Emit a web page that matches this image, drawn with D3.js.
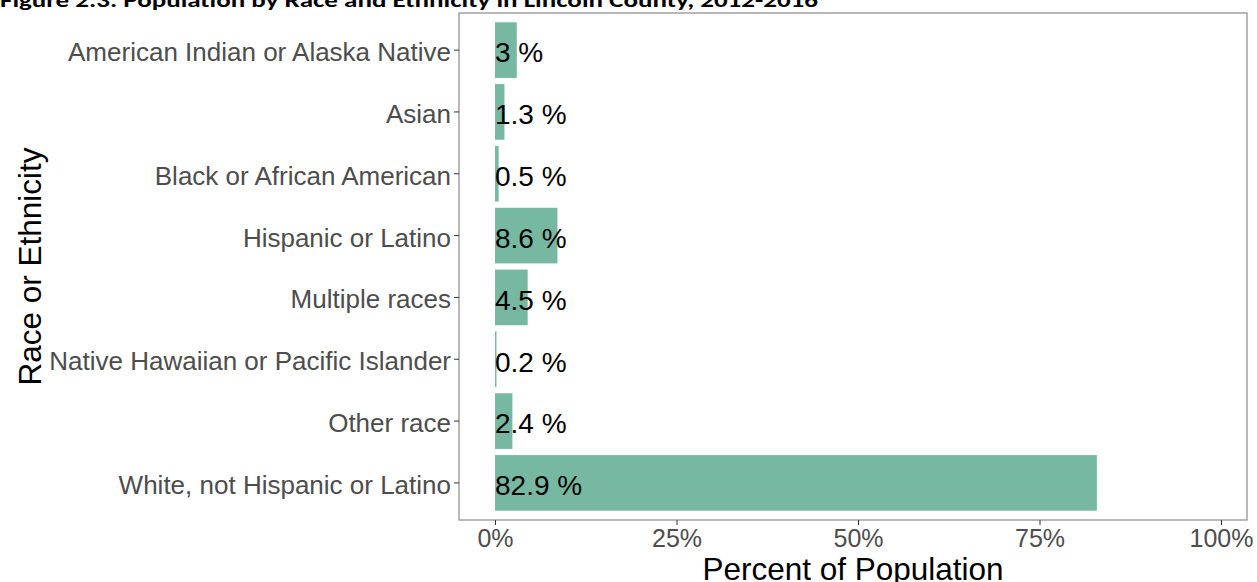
<!DOCTYPE html>
<html><head><meta charset="utf-8">
<script src="https://cdn.jsdelivr.net/npm/d3@7"></script>
<style>body{margin:0;background:#fff}svg{display:block}</style>
</head><body>
<svg id="chart" width="1257" height="582"></svg>
<script>
const categories = ["American Indian or Alaska Native","Asian","Black or African American","Hispanic or Latino","Multiple races","Native Hawaiian or Pacific Islander","Other race","White, not Hispanic or Latino"];
const values = [3, 1.3, 0.5, 8.6, 4.5, 0.2, 2.4, 82.9];
const labels = ["3 %","1.3 %","0.5 %","8.6 %","4.5 %","0.2 %","2.4 %","82.9 %"];
const xTicks = [0, 25, 50, 75, 100];
const title = "Figure 2.3. Population by Race and Ethnicity in Lincoln County, 2012-2016";

const svg = d3.select("#chart");
const panel = {left: 459, right: 1247, top: 13, bottom: 520};
const font = "Liberation Sans, Arial, sans-serif";

svg.append("text").attr("x", 0).attr("y", 6.5)
  .attr("font-family", "Carlito, Calibri, Liberation Sans, Arial, sans-serif")
  .attr("font-weight", "bold").attr("font-size", 21)
  .attr("textLength", 818).attr("lengthAdjust", "spacingAndGlyphs")
  .attr("fill", "#000").text(title);

const x = d3.scaleLinear().domain([-4.96, 103.58]).range([panel.left, panel.right]);
const y = d3.scaleBand().domain(categories).range([panel.top, panel.bottom]).paddingInner(0.1).paddingOuter(0.15);

svg.append("rect").attr("x", panel.left).attr("y", panel.top)
  .attr("width", panel.right - panel.left).attr("height", panel.bottom - panel.top)
  .attr("fill", "#fff");

svg.append("g").selectAll("rect").data(categories).join("rect")
  .attr("x", x(0)).attr("y", d => y(d))
  .attr("width", (d, i) => x(values[i]) - x(0)).attr("height", y.bandwidth())
  .attr("fill", "#77b8a3");

svg.append("g").selectAll("text").data(categories).join("text")
  .attr("x", x(0)).attr("y", d => y(d) + y.bandwidth() / 2)
  .attr("dy", "0.44em").attr("font-family", font).attr("font-size", 28)
  .attr("fill", "#000").text((d, i) => labels[i]);

svg.append("rect").attr("x", panel.left).attr("y", panel.top)
  .attr("width", panel.right - panel.left).attr("height", panel.bottom - panel.top)
  .attr("fill", "none").attr("stroke", "#8a8a8a").attr("stroke-width", 1.2);

const xAxis = svg.append("g").attr("transform", `translate(0,${panel.bottom})`)
  .call(d3.axisBottom(x).tickValues(xTicks).tickFormat(d => d + "%").tickSize(5).tickPadding(4));
xAxis.select(".domain").remove();
xAxis.selectAll("line").attr("stroke", "#333");
xAxis.selectAll("text").attr("font-family", font).attr("font-size", 25).attr("fill", "#4d4d4d");

const yAxis = svg.append("g").attr("transform", `translate(${panel.left},0)`)
  .call(d3.axisLeft(y).tickSize(5).tickPadding(3));
yAxis.select(".domain").remove();
yAxis.selectAll("line").attr("stroke", "#333");
yAxis.selectAll("text").attr("font-family", font).attr("font-size", 26).attr("fill", "#4d4d4d").attr("dy", "0.42em");

svg.append("text").attr("x", (panel.left + panel.right) / 2).attr("y", 580)
  .attr("text-anchor", "middle").attr("font-family", font).attr("font-size", 31.5)
  .attr("fill", "#000").text("Percent of Population");

svg.append("text").attr("transform", `translate(41,${(panel.top + panel.bottom) / 2}) rotate(-90)`)
  .attr("text-anchor", "middle").attr("font-family", font).attr("font-size", 31.5)
  .attr("fill", "#000").text("Race or Ethnicity");
</script>
</body></html>
